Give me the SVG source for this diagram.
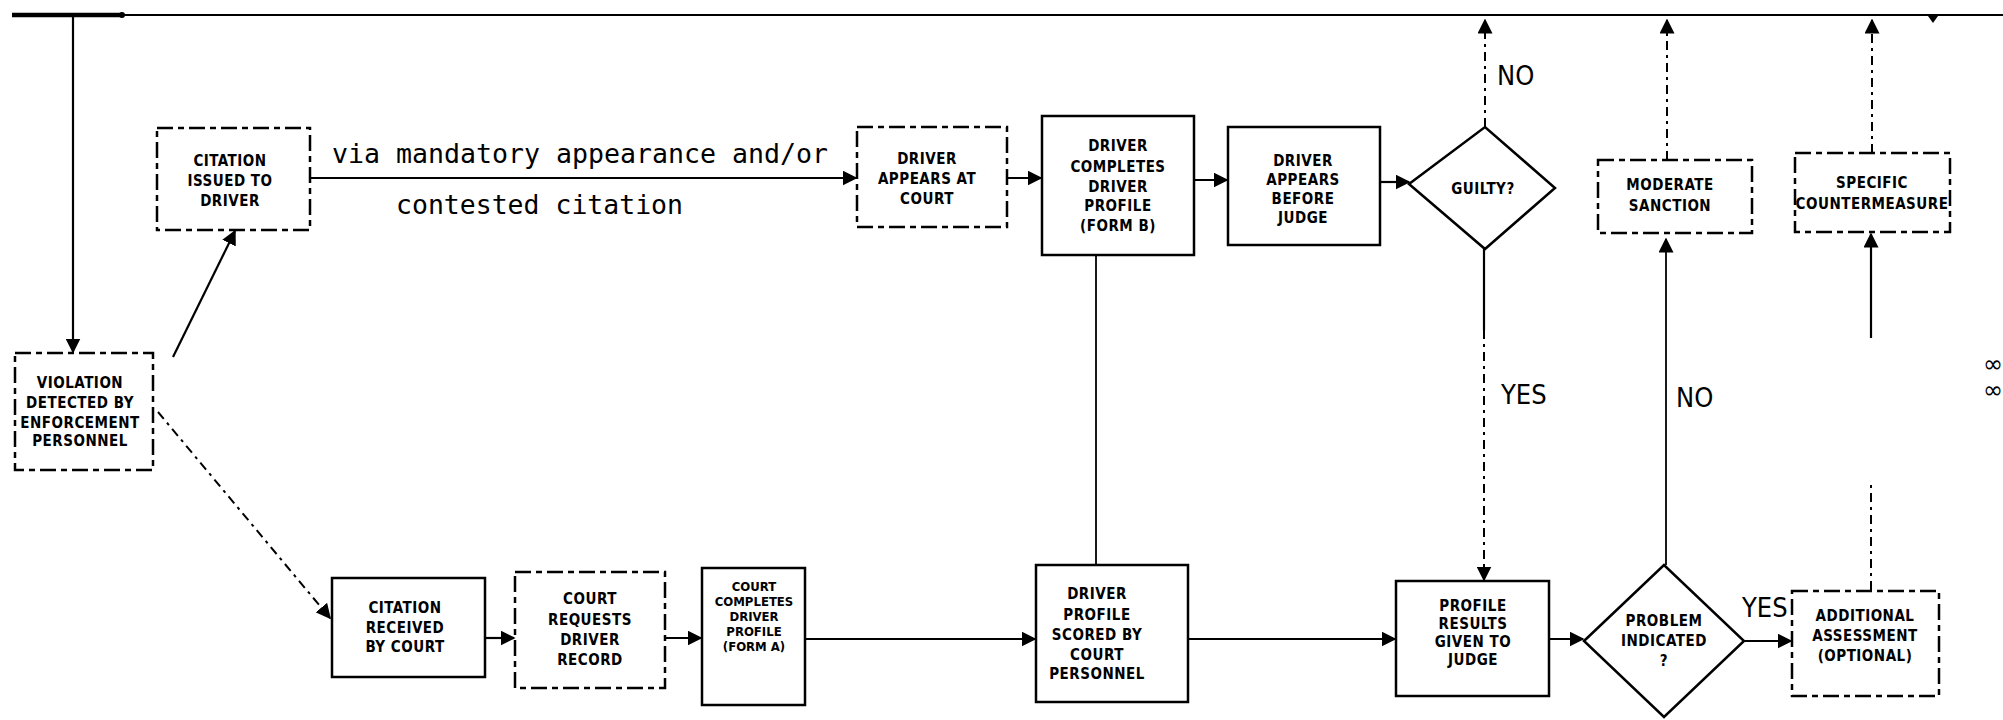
<svg xmlns="http://www.w3.org/2000/svg" width="2003" height="720" viewBox="0 0 2003 720">
<style>
.bg{fill:#fff}
.box{fill:none;stroke:#000;stroke-width:2.5}
.dbox{fill:none;stroke:#000;stroke-width:2.5;stroke-dasharray:16 5 6 5}
.t{font-family:"Liberation Sans Narrow","DejaVu Sans Condensed","DejaVu Sans",sans-serif;font-stretch:condensed;font-size:15px;font-weight:bold;text-anchor:middle;fill:#000;letter-spacing:0.5px}
.ts{font-size:13px;letter-spacing:0}
.lab{font-family:"Liberation Sans Narrow","DejaVu Sans Condensed","DejaVu Sans",sans-serif;font-stretch:condensed;font-size:27px;fill:#000}
.sym{font-family:"DejaVu Sans",sans-serif;font-size:24px;fill:#000}
.mono{font-family:"DejaVu Sans Mono","Liberation Mono",monospace;font-size:26px;fill:#000}
.ln{fill:none;stroke:#000;stroke-width:2.2}
.dl{fill:none;stroke:#000;stroke-width:2;stroke-dasharray:9 5 3 5}
</style>
<defs>
<marker id="a" viewBox="0 0 10 10" refX="9" refY="5" markerWidth="15" markerHeight="15" markerUnits="userSpaceOnUse" orient="auto"><path d="M0,0 L10,5 L0,10 z" fill="#000"/></marker>
</defs>
<rect class="bg" x="0" y="0" width="2003" height="720"/>

<g id="connectors">
<line x1="12" y1="15" x2="122" y2="15" stroke="#000" stroke-width="4.5"/>
<line x1="122" y1="15" x2="2003" y2="15" stroke="#000" stroke-width="2"/>
<circle cx="122" cy="15" r="3" fill="#000"/>
<path d="M1928,16 L1938,16 L1933,23 z" fill="#000"/>
<line class="ln" x1="73" y1="15" x2="73" y2="352" stroke-width="3.5" marker-end="url(#a)"/>
<line class="ln" x1="173" y1="357" x2="235" y2="231" marker-end="url(#a)"/>
<line class="dl" x1="158" y1="412" x2="330" y2="618" marker-end="url(#a)"/>
<line class="ln" x1="310" y1="178" x2="856" y2="178" marker-end="url(#a)"/>
<line class="ln" x1="1007" y1="178" x2="1041" y2="178" stroke-width="3" marker-end="url(#a)"/>
<line class="ln" x1="1194" y1="180" x2="1227" y2="180" stroke-width="3" marker-end="url(#a)"/>
<line class="ln" x1="1380" y1="182" x2="1409" y2="182" marker-end="url(#a)"/>
<line class="dl" x1="1485" y1="127" x2="1485" y2="20" marker-end="url(#a)"/>
<line class="ln" x1="1484" y1="249" x2="1484" y2="330"/>
<line class="dl" x1="1484" y1="330" x2="1484" y2="580" marker-end="url(#a)"/>
<line class="ln" x1="485" y1="638" x2="514" y2="638" marker-end="url(#a)"/>
<line class="ln" x1="665" y1="638" x2="701" y2="638" stroke-width="3" marker-end="url(#a)"/>
<line class="ln" x1="805" y1="639" x2="1035" y2="639" marker-end="url(#a)"/>
<line x1="1096" y1="255" x2="1096" y2="565" stroke="#000" stroke-width="1.8"/>
<line class="ln" x1="1188" y1="639" x2="1395" y2="639" marker-end="url(#a)"/>
<line class="ln" x1="1549" y1="639" x2="1583" y2="639" marker-end="url(#a)"/>
<line x1="1666" y1="565" x2="1666" y2="239" stroke="#000" stroke-width="1.8" marker-end="url(#a)"/>
<line class="dl" x1="1667" y1="160" x2="1667" y2="20" marker-end="url(#a)"/>
<line class="ln" x1="1744" y1="641" x2="1791" y2="641" marker-end="url(#a)"/>
<line class="dl" x1="1871" y1="590" x2="1871" y2="485"/>
<line class="ln" x1="1871" y1="338" x2="1871" y2="234" stroke-width="2.5" marker-end="url(#a)"/>
<line class="dl" x1="1872" y1="153" x2="1872" y2="20" marker-end="url(#a)"/>
</g>

<g id="labels">
<text class="mono" x="332" y="163" textLength="496" lengthAdjust="spacingAndGlyphs">via mandatory appearance and/or</text>
<text class="mono" x="396" y="214" textLength="287" lengthAdjust="spacingAndGlyphs">contested citation</text>
<text class="lab" x="1497" y="85">NO</text>
<text class="lab" x="1501" y="404">YES</text>
<text class="lab" x="1676" y="407">NO</text>
<text class="lab" x="1742" y="617">YES</text>
<text class="sym" x="1983" y="372">∞</text>
<text class="sym" x="1983" y="398">∞</text>
</g>

<g id="violation">
<rect class="dbox" x="15" y="353" width="138" height="117"/>
<text class="t" x="80" y="388">VIOLATION</text>
<text class="t" x="80" y="408">DETECTED BY</text>
<text class="t" x="80" y="428">ENFORCEMENT</text>
<text class="t" x="80" y="446">PERSONNEL</text>
</g>

<g id="citation-issued">
<rect class="dbox" x="157" y="128" width="153" height="102"/>
<text class="t" x="230" y="166">CITATION</text>
<text class="t" x="230" y="186">ISSUED TO</text>
<text class="t" x="230" y="206">DRIVER</text>
</g>

<g id="driver-appears">
<rect class="dbox" x="857" y="127" width="150" height="100"/>
<text class="t" x="927" y="164">DRIVER</text>
<text class="t" x="927" y="184">APPEARS AT</text>
<text class="t" x="927" y="204">COURT</text>
</g>

<g id="driver-completes">
<rect class="box" x="1042" y="116" width="152" height="139"/>
<text class="t" x="1118" y="151">DRIVER</text>
<text class="t" x="1118" y="172">COMPLETES</text>
<text class="t" x="1118" y="192">DRIVER</text>
<text class="t" x="1118" y="211">PROFILE</text>
<text class="t" x="1118" y="231">(FORM B)</text>
</g>

<g id="before-judge">
<rect class="box" x="1228" y="127" width="152" height="118"/>
<text class="t" x="1303" y="166">DRIVER</text>
<text class="t" x="1303" y="185">APPEARS</text>
<text class="t" x="1303" y="204">BEFORE</text>
<text class="t" x="1303" y="223">JUDGE</text>
</g>

<g id="guilty">
<path class="box" d="M1409,184 L1485,127 L1555,188 L1485,249 Z"/>
<text class="t" x="1483" y="194">GUILTY?</text>
</g>

<g id="moderate">
<rect class="dbox" x="1598" y="160" width="154" height="73"/>
<text class="t" x="1670" y="190">MODERATE</text>
<text class="t" x="1670" y="211">SANCTION</text>
</g>

<g id="specific">
<rect class="dbox" x="1795" y="153" width="155" height="79"/>
<text class="t" x="1872" y="188">SPECIFIC</text>
<text class="t" x="1872" y="209">COUNTERMEASURE</text>
</g>

<g id="citation-received">
<rect class="box" x="332" y="578" width="153" height="99"/>
<text class="t" x="405" y="613">CITATION</text>
<text class="t" x="405" y="633">RECEIVED</text>
<text class="t" x="405" y="652">BY COURT</text>
</g>

<g id="court-requests">
<rect class="dbox" x="515" y="572" width="150" height="116"/>
<text class="t" x="590" y="604">COURT</text>
<text class="t" x="590" y="625">REQUESTS</text>
<text class="t" x="590" y="645">DRIVER</text>
<text class="t" x="590" y="665">RECORD</text>
</g>

<g id="court-completes">
<rect class="box" x="702" y="568" width="103" height="137"/>
<text class="t ts" x="754" y="591">COURT</text>
<text class="t ts" x="754" y="606">COMPLETES</text>
<text class="t ts" x="754" y="621">DRIVER</text>
<text class="t ts" x="754" y="636">PROFILE</text>
<text class="t ts" x="754" y="651">(FORM A)</text>
</g>

<g id="profile-scored">
<rect class="box" x="1036" y="565" width="152" height="137"/>
<text class="t" x="1097" y="599">DRIVER</text>
<text class="t" x="1097" y="620">PROFILE</text>
<text class="t" x="1097" y="640">SCORED BY</text>
<text class="t" x="1097" y="660">COURT</text>
<text class="t" x="1097" y="679">PERSONNEL</text>
</g>

<g id="profile-results">
<rect class="box" x="1396" y="581" width="153" height="115"/>
<text class="t" x="1473" y="611">PROFILE</text>
<text class="t" x="1473" y="629">RESULTS</text>
<text class="t" x="1473" y="647">GIVEN TO</text>
<text class="t" x="1473" y="665">JUDGE</text>
</g>

<g id="problem">
<path class="box" d="M1584,641 L1664,565 L1744,641 L1664,717 Z"/>
<text class="t" x="1664" y="626">PROBLEM</text>
<text class="t" x="1664" y="646">INDICATED</text>
<text class="t" x="1664" y="666">?</text>
</g>

<g id="additional">
<rect class="dbox" x="1792" y="591" width="147" height="105"/>
<text class="t" x="1865" y="621">ADDITIONAL</text>
<text class="t" x="1865" y="641">ASSESSMENT</text>
<text class="t" x="1865" y="661">(OPTIONAL)</text>
</g>
</svg>
